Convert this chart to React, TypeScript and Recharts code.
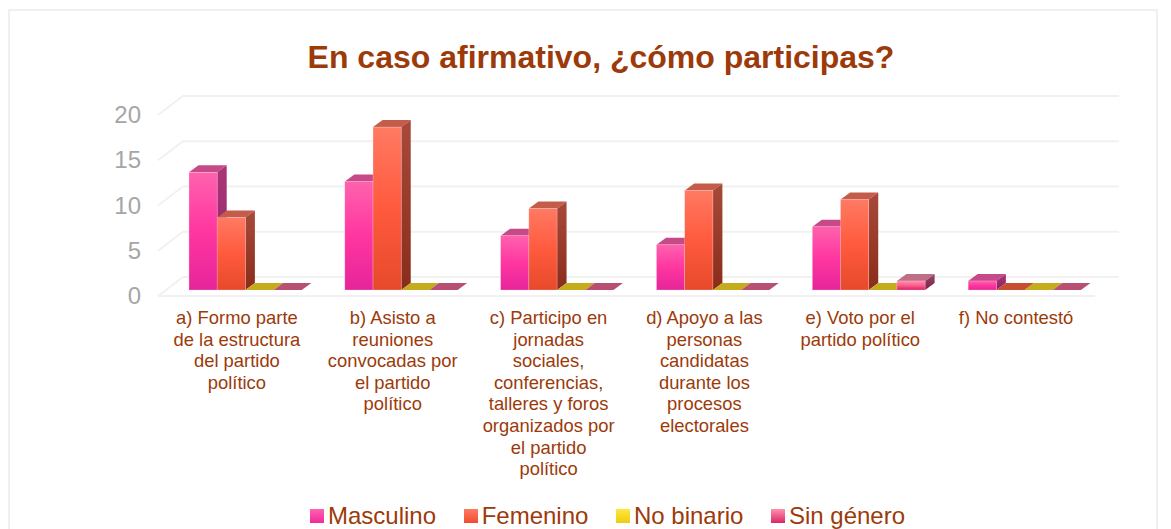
import React from 'react';
import { BarChart, Bar, XAxis, YAxis, CartesianGrid, Legend } from 'recharts';

const categories = [
  'a) Formo parte\nde la estructura\ndel partido\npolítico',
  'b) Asisto a\nreuniones\nconvocadas por\nel partido\npolítico',
  'c) Participo en\njornadas\nsociales,\nconferencias,\ntalleres y foros\norganizados por\nel partido\npolítico',
  'd) Apoyo a las\npersonas\ncandidatas\ndurante los\nprocesos\nelectorales',
  'e) Voto por el\npartido político',
  'f) No contestó',
];
const masculino = [13, 12, 6, 5, 7, 1];
const femenino = [8, 18, 9, 11, 10, 0];
const noBinario = [0, 0, 0, 0, 0, 0];
const sinGenero = [0, 0, 0, 0, 1, 0];
const yTicks = [0, 5, 10, 15, 20];
const seriesOrder = ['masculino', 'femenino', 'noBinario', 'sinGenero'];

const data = categories.map((name, i) => ({
  name,
  masculino: masculino[i],
  femenino: femenino[i],
  noBinario: noBinario[i],
  sinGenero: sinGenero[i],
}));

const palette: Record<string, { front: string[]; side: string[]; top: string; css: string }> = {
  masculino: { front: ['#ff62ae', '#ff36a0', '#e6249a'], side: ['#ab3578', '#8f1f6a'], top: '#c64a88', css: 'linear-gradient(#ff62ae,#f02a9c)' },
  femenino: { front: ['#ff7a62', '#ff5a3e', '#e64a2a'], side: ['#a84a3a', '#8a2c1a'], top: '#c45c4a', css: 'linear-gradient(#ff7a62,#f04c30)' },
  noBinario: { front: ['#ffe84a', '#fad920', '#e0c010'], side: ['#a89420', '#8a7810'], top: '#c4ac1c', css: 'linear-gradient(#ffe640,#efcc10)' },
  sinGenero: { front: ['#ff8fae', '#fb5e8e', '#d81f62'], side: ['#9a4a68', '#7a1f48'], top: '#bf6f85', css: 'linear-gradient(#ff90ae,#d82868)' },
};
const zeroTop: Record<string, string> = { masculino: '#c64a88', femenino: '#c84e30', noBinario: '#c4ac1c', sinGenero: '#b85072' };

const DX = 9.5;
const DY = 7;
const TEXT = '#9c3a0a';
const FONT = "'Liberation Sans', Arial, sans-serif";

const Bar3D = (props: any) => {
  const { x, y, width, height, dataKey, value } = props;
  const p = palette[dataKey];
  const top = value === 0 ? zeroTop[dataKey] : p.top;
  return (
    <g>
      <polygon points={`${x},${y} ${x + DX},${y - DY} ${x + width + DX},${y - DY} ${x + width},${y}`} fill={top} />
      {height > 0 && (
        <>
          <polygon
            points={`${x + width},${y} ${x + width + DX},${y - DY} ${x + width + DX},${y + height - DY} ${x + width},${y + height}`}
            fill={`url(#side-${dataKey})`}
          />
          <rect x={x} y={y} width={width} height={height} fill={`url(#front-${dataKey})`} stroke="#ffd6e4" strokeOpacity={0.5} strokeWidth={0.6} />
        </>
      )}
    </g>
  );
};

// grid lines run along the back wall and fold forward on the left
const gridLine = (props: any) => {
  const { x1, x2, y1 } = props;
  const isFloor = y1 > 280;
  return (
    <g key={props.key ?? y1} fill="none" stroke="#f1f1f1" strokeWidth={2}>
      <polyline points={`${x1 - 9},${y1 + 6} ${x1 + 16},${y1 - 13} ${x2 + 17},${y1 - 13}`} />
      {isFloor && <line x1={x1 - 9} y1={y1 + 6} x2={x2 - 7} y2={y1 + 6} />}
    </g>
  );
};

const CategoryTick = ({ x, y, payload }: any) => (
  <text x={x - 8} y={y + 28} textAnchor="middle" fontSize={18.4} fill={TEXT} fontFamily={FONT}>
    {String(payload.value)
      .split('\n')
      .map((line: string, i: number) => (
        <tspan key={i} x={x - 8} dy={i === 0 ? 0 : 21.6}>
          {line}
        </tspan>
      ))}
  </text>
);

const ValueTick = ({ x, y, payload }: any) => (
  <text x={x - 20} y={y + 14} textAnchor="end" fontSize={24} fill="#a6a6a6" fontFamily={FONT}>
    {payload.value}
  </text>
);

const LegendRow = ({ payload }: any) => (
  <div style={{ display: 'flex', justifyContent: 'flex-start', fontFamily: FONT, fontSize: 24, color: TEXT, lineHeight: '28px' }}>
    {(payload ?? []).map((item: any) => (
      <div key={item.dataKey} style={{ display: 'flex', alignItems: 'center', marginRight: 27.6 }}>
        <span style={{ width: 14, height: 14, marginRight: 4, background: palette[item.dataKey].css, display: 'inline-block' }} />
        {item.value}
      </div>
    ))}
  </div>
);

export default function App() {
  return (
    <div style={{ position: 'absolute', left: 0, top: 0, width: 1171, height: 529, overflow: 'hidden', background: '#fff' }}>
      <div style={{ position: 'absolute', left: 8, top: 9, width: 1150, height: 530, border: '2px solid #f0f0f0', boxSizing: 'border-box' }} />
      <BarChart
        width={1171}
        height={529}
        data={data}
        margin={{ top: 109, right: 69, bottom: 0, left: 107 }}
        barGap={0}
        barSize={28.2}
        style={{ position: 'absolute', left: 0, top: 0 }}
      >
        <defs>
          {Object.keys(palette).map((key) => (
            <React.Fragment key={key}>
              <linearGradient id={`front-${key}`} x1="0" y1="0" x2="0" y2="1">
                <stop offset="0" stopColor={palette[key].front[0]} />
                <stop offset="0.5" stopColor={palette[key].front[1]} />
                <stop offset="1" stopColor={palette[key].front[2]} />
              </linearGradient>
              <linearGradient id={`side-${key}`} x1="0" y1="0" x2="0" y2="1">
                <stop offset="0" stopColor={palette[key].side[0]} />
                <stop offset="1" stopColor={palette[key].side[1]} />
              </linearGradient>
            </React.Fragment>
          ))}
        </defs>
        <text x={601} y={68} textAnchor="middle" fontSize={32} fontWeight="bold" fill={TEXT} fontFamily={FONT}>
          En caso afirmativo, ¿cómo participas?
        </text>
        <CartesianGrid vertical={false} horizontal={gridLine} />
        <XAxis dataKey="name" axisLine={false} tickLine={false} interval={0} height={211} tick={<CategoryTick />} tickMargin={0} />
        <YAxis domain={[0, 20]} ticks={yTicks} width={60} axisLine={false} tickLine={false} tick={<ValueTick />} tickMargin={0} />
        <Legend
          content={<LegendRow />}
          itemSorter={(item: any) => seriesOrder.indexOf(item.dataKey)}
          wrapperStyle={{ position: 'absolute', left: 310, top: 502, width: 700, height: 28 }}
        />
        <Bar dataKey="masculino" name="Masculino" fill="#ff36a0" shape={Bar3D} isAnimationActive={false} />
        <Bar dataKey="femenino" name="Femenino" fill="#ff5a3e" shape={Bar3D} isAnimationActive={false} />
        <Bar dataKey="noBinario" name="No binario" fill="#fad920" shape={Bar3D} isAnimationActive={false} />
        <Bar dataKey="sinGenero" name="Sin género" fill="#fb5e8e" shape={Bar3D} isAnimationActive={false} />
      </BarChart>
    </div>
  );
}
